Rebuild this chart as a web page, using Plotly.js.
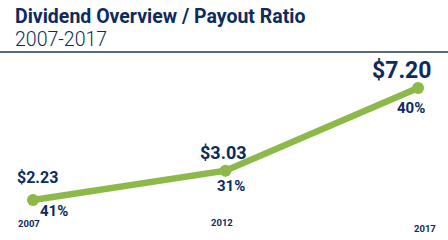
<!DOCTYPE html>
<html><head><meta charset="utf-8">
<script src="https://cdn.plot.ly/plotly-3.0.1.min.js"></script>
<style>html,body{margin:0;padding:0;background:#fff;}#chart{width:448px;height:240px;}</style>
</head><body><div id="chart"></div>
<script>
const years = [2007, 2012, 2017];
const dividends = [2.23, 3.03, 7.20];
const payout = [41, 31, 40];
const tickLabels = ['2007', '2012', '2017'];

const navy = '#0d2b5c';
const green = '#8cb94a';
const font = 'Roboto, "DejaVu Sans", sans-serif';

const divStyle = [
  {size: 16, xs: 4, ys: 23},
  {size: 18, xs: -2, ys: 18},
  {size: 23, xs: -17, ys: 18}
];
const payStyle = [
  {xs: 21, ys: -11},
  {xs: 5, ys: -15},
  {xs: -7, ys: -20}
];
const tickStyle = [
  {xs: -4, y: 0.067},
  {xs: -4, y: 0.071},
  {xs: 7, y: 0.046}
];

const annotations = [];
years.forEach((yr, i) => {
  annotations.push({x: yr, y: Math.log10(dividends[i]), xref: 'x', yref: 'y',
    text: '<b>$' + dividends[i].toFixed(2) + '</b>', showarrow: false,
    xshift: divStyle[i].xs, yshift: divStyle[i].ys, xanchor: 'center', yanchor: 'middle',
    font: {family: font, size: divStyle[i].size, color: navy}});
  annotations.push({x: yr, y: Math.log10(dividends[i]), xref: 'x', yref: 'y',
    text: '<b>' + payout[i] + '%</b>', showarrow: false,
    xshift: payStyle[i].xs, yshift: payStyle[i].ys, xanchor: 'center', yanchor: 'middle',
    font: {family: font, size: 15, color: navy}});
  annotations.push({x: yr, y: tickStyle[i].y, xref: 'x', yref: 'paper',
    text: '<b>' + tickLabels[i] + '</b>', showarrow: false,
    xshift: tickStyle[i].xs, xanchor: 'center', yanchor: 'middle',
    font: {family: font, size: 9.5, color: navy}});
});

annotations.push({x: 0, y: 1, xref: 'paper', yref: 'paper', xanchor: 'left', yanchor: 'top',
  xshift: 13, yshift: -3, showarrow: false, align: 'left',
  text: '<b>Dividend Overview / Payout Ratio</b>',
  font: {family: font, size: 19.5, color: navy}});
annotations.push({x: 0, y: 1, xref: 'paper', yref: 'paper', xanchor: 'left', yanchor: 'top',
  xshift: 13, yshift: -26, showarrow: false, align: 'left',
  text: '2007-2017',
  font: {family: font, size: 19.5, color: navy, weight: 300}});

const trace = {
  x: years, y: dividends, type: 'scatter', mode: 'lines+markers',
  line: {color: green, width: 6.5},
  marker: {color: green, size: 12},
  hoverinfo: 'none'
};

const layout = {
  width: 448, height: 240,
  margin: {l: 0, r: 0, t: 0, b: 0},
  paper_bgcolor: '#fff', plot_bgcolor: '#fff',
  showlegend: false,
  xaxis: {range: [2006.143, 2017.779], visible: false, fixedrange: true},
  yaxis: {type: 'log', range: [0.1665, 1.2574], visible: false, fixedrange: true},
  shapes: [{type: 'line', xref: 'paper', yref: 'paper', x0: 0, x1: 1,
    y0: 1 - 52/240, y1: 1 - 52/240, line: {color: '#1c3a4e', width: 1.5}}],
  annotations: annotations
};

Plotly.newPlot('chart', [trace], layout, {displayModeBar: false, staticPlot: true});
</script></body></html>
